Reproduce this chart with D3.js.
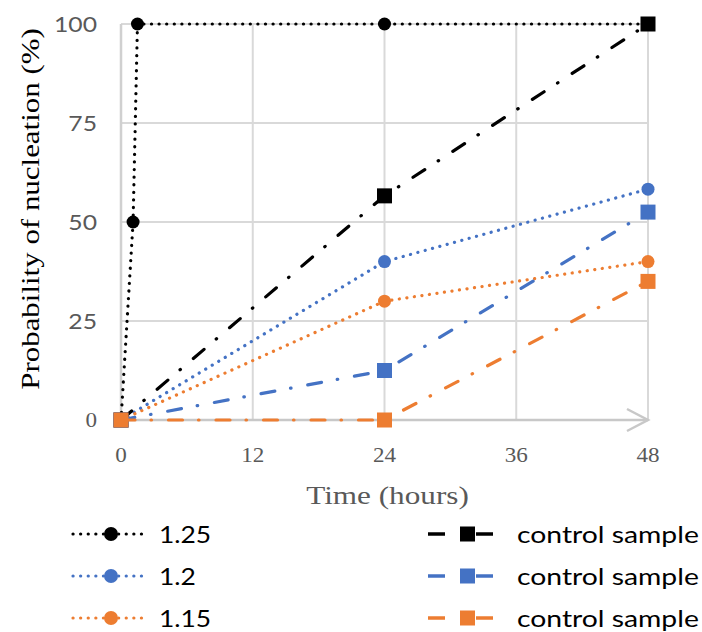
<!DOCTYPE html>
<html lang="en">
<head>
  <meta charset="UTF-8" />
  <title>Probability of nucleation</title>
  <script src="https://d3js.org/d3.v7.min.js"></script>
  <style>
    body { margin: 0; background: #fff; }
    .serif { font-family: "Liberation Serif", "Times New Roman", serif; }
    .sans { font-family: Lato, "Open Sans", sans-serif; }
  </style>
</head>
<body>
  <svg id="chart" width="702" height="632"></svg>
  <script>
    // data
    const xTicks = [0, 12, 24, 36, 48];
    const yTicks = [0, 25, 50, 75, 100];
    const seriesNames = ["1.25", "1.2", "1.15", "control sample", "control sample", "control sample"];
    const seriesColors = ["#000000", "#4472C4", "#ED7D31", "#000000", "#4472C4", "#ED7D31"];
    const seriesKinds = ["dot", "dot", "dot", "ctrl", "ctrl", "ctrl"];
    const hours125 = [0, 1.1, 1.5, 24, 48];
    const vals125 = [0, 50, 100, 100, 100];
    const hours = [0, 24, 48];
    const vals12 = [0, 40, 58.3];
    const vals115 = [0, 30, 40];
    const ctrlBlack = [0, 56.6, 100];
    const ctrlBlue = [0, 12.5, 52.5];
    const ctrlOrange = [0, 0, 35];

    const seriesX = [hours125, hours, hours, hours, hours, hours];
    const seriesY = [vals125, vals12, vals115, ctrlBlack, ctrlBlue, ctrlOrange];

    const svg = d3.select("#chart");
    const x = d3.scaleLinear().domain([0, 48]).range([121, 648]);
    const y = d3.scaleLinear().domain([0, 100]).range([420, 24]);

    // text that is a bit wider than the installed fonts
    function label(cls, tx, ty, size, sx, anchor, fill, str, rot) {
      return svg.append("text").attr("class", cls)
        .attr("transform", `translate(${tx},${ty})${rot ? " rotate(-90)" : ""} scale(${sx},1)`)
        .attr("text-anchor", anchor).attr("font-size", size).attr("fill", fill)
        .text(str);
    }

    // gridlines
    svg.append("g").selectAll("line").data(yTicks.slice(1)).join("line")
      .attr("x1", x(0)).attr("x2", x(48))
      .attr("y1", d => y(d)).attr("y2", d => y(d))
      .attr("stroke", "#d9d9d9").attr("stroke-width", 2);
    svg.append("g").selectAll("line").data(xTicks.slice(1)).join("line")
      .attr("x1", d => x(d)).attr("x2", d => x(d))
      .attr("y1", y(0)).attr("y2", y(100))
      .attr("stroke", "#d9d9d9").attr("stroke-width", 2);

    // axes
    svg.append("line").attr("x1", x(0)).attr("x2", x(0)).attr("y1", y(0)).attr("y2", y(100))
      .attr("stroke", "#d0d0d0").attr("stroke-width", 2.5);
    svg.append("line").attr("x1", x(0)).attr("x2", x(48)).attr("y1", y(0)).attr("y2", y(0))
      .attr("stroke", "#c8c8c8").attr("stroke-width", 2.5);
    svg.append("path")
      .attr("d", `M${x(48) - 21},${y(0) - 11}L${x(48)},${y(0)}L${x(48) - 21},${y(0) + 11}`)
      .attr("fill", "none").attr("stroke", "#c8c8c8").attr("stroke-width", 2.5);

    // tick labels
    yTicks.forEach(d => {
      if (d === 0) label("serif", 97, y(d) + 7, 21, 1.1, "end", "#595959", d);
      else label("sans", 97, y(d) + 7.5, 21.5, 1.15, "end", "#595959", d);
    });
    xTicks.forEach(d => label("serif", x(d), 462, 21, 1.1, "middle", "#595959", d));

    // axis titles
    label("serif", x(24) + 3, 504, 26, 1.2, "middle", "#595959", "Time (hours)");
    label("serif", 39, 209, 26, 1.19, "middle", "#000", "Probability of nucleation (%)", true);

    const dashFor = k => k === "dot" ? "0.1,7.5" : "14,16,0.5,17";
    const line = d3.line().x(d => x(d[0])).y(d => y(d[1]));

    seriesY.forEach((vals, i) => {
      const pts = vals.map((v, j) => [seriesX[i][j], v]);
      const g = svg.append("g");
      g.append("path").datum(pts).attr("d", line)
        .attr("fill", "none").attr("stroke", seriesColors[i])
        .attr("stroke-width", 3.2).attr("stroke-linecap", "round")
        .attr("stroke-dasharray", dashFor(seriesKinds[i]));
      if (seriesKinds[i] === "dot") {
        g.selectAll("circle").data(pts).join("circle")
          .attr("cx", d => x(d[0])).attr("cy", d => y(d[1])).attr("r", 6.5)
          .attr("fill", seriesColors[i]);
      } else {
        g.selectAll("rect").data(pts).join("rect")
          .attr("x", d => x(d[0]) - 7.5).attr("y", d => y(d[1]) - 7.5)
          .attr("width", 15).attr("height", 15)
          .attr("fill", seriesColors[i]);
      }
    });

    // legend
    const legRows = [534, 576, 618];
    seriesNames.forEach((name, i) => {
      const row = legRows[i % 3];
      const g = svg.append("g");
      if (seriesKinds[i] === "dot") {
        g.append("line").attr("x1", 73).attr("x2", 145).attr("y1", row).attr("y2", row)
          .attr("stroke", seriesColors[i]).attr("stroke-width", 3.2)
          .attr("stroke-linecap", "round").attr("stroke-dasharray", "0.1,7.5");
        g.append("circle").attr("cx", 111).attr("cy", row).attr("r", 7).attr("fill", seriesColors[i]);
        label("sans", 159, row + 8.5, 24, 1.1, "start", "#000", name);
      } else {
        [[428, 445], [476, 493]].forEach(([a, b]) => {
          g.append("line").attr("x1", a).attr("x2", b).attr("y1", row).attr("y2", row)
            .attr("stroke", seriesColors[i]).attr("stroke-width", 3.5);
        });
        g.append("rect").attr("x", 460).attr("y", row - 7.5).attr("width", 15).attr("height", 15)
          .attr("fill", seriesColors[i]);
        label("sans", 517, row + 8.5, 24, 1.18, "start", "#000", name);
      }
    });
  </script>
</body>
</html>
